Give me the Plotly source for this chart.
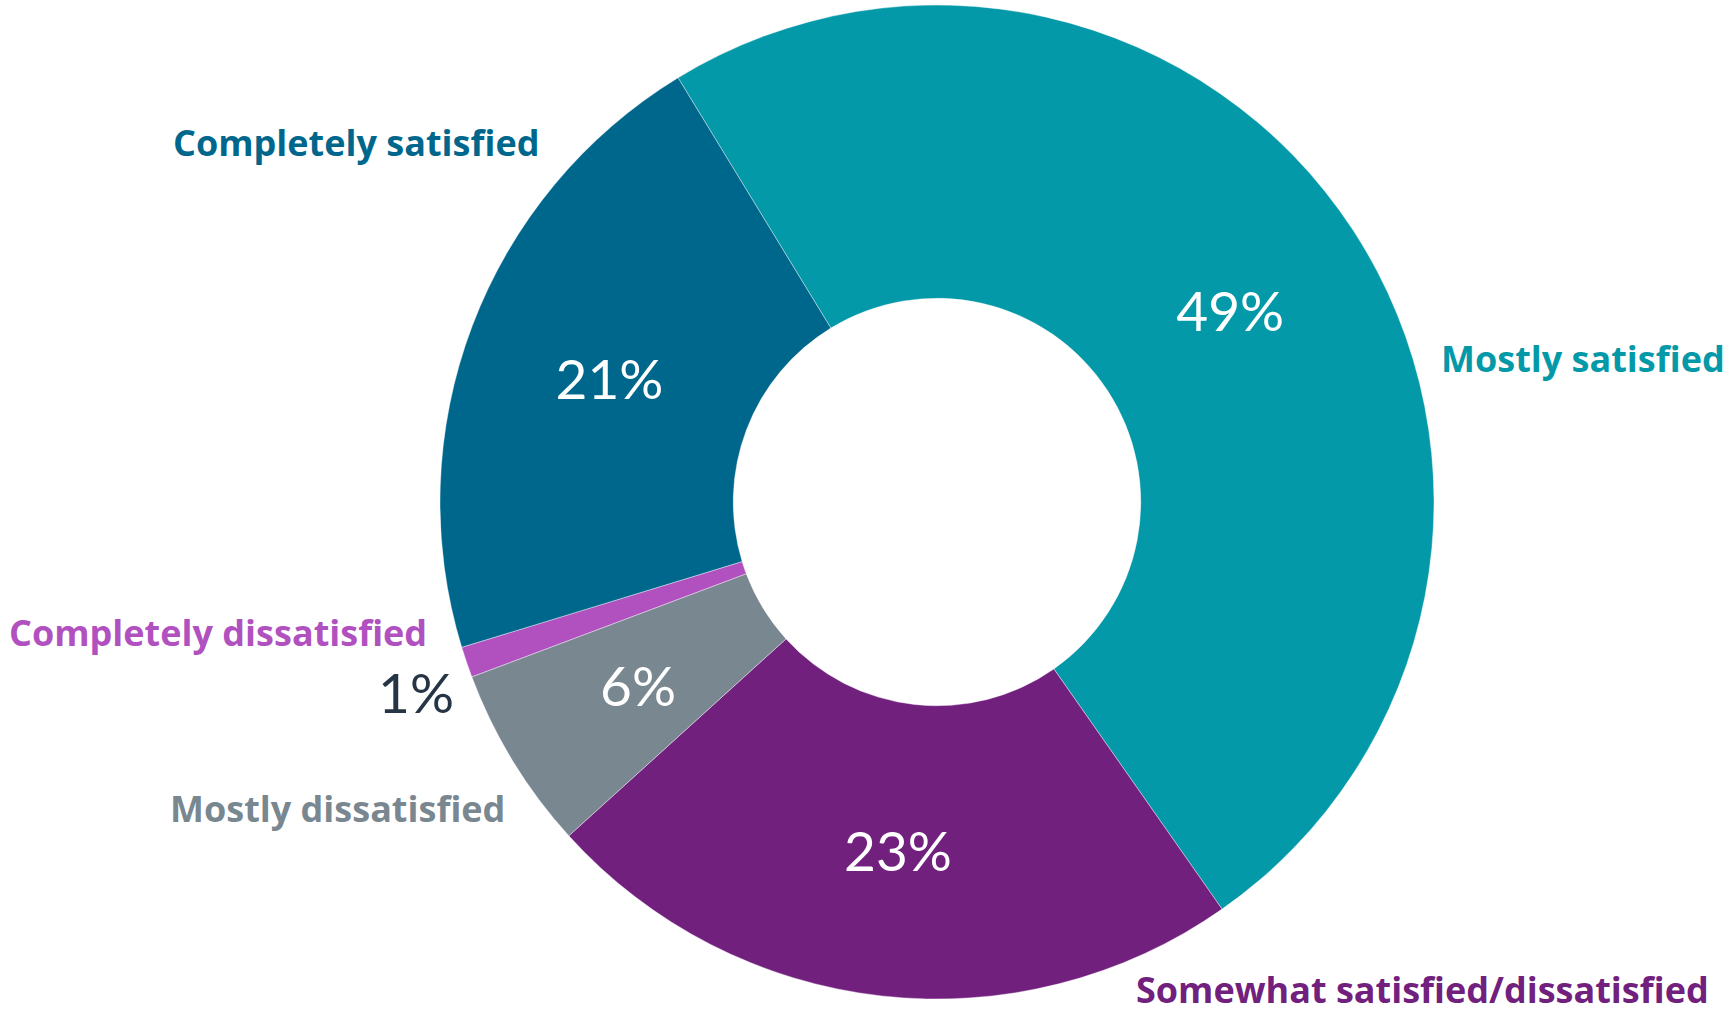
import math
import plotly.graph_objects as go

# Survey satisfaction shares (percent), in clockwise drawing order
categories = [
    "Mostly satisfied",
    "Somewhat satisfied/dissatisfied",
    "Mostly dissatisfied",
    "Completely dissatisfied",
    "Completely satisfied",
]
shares = [49, 23, 6, 1, 21]
colors = ["#0499A8", "#71207E", "#798790", "#B151C0", "#00678C"]

W, H = 1731, 1016
PCT_FONT = "Lato, Carlito, 'Open Sans', sans-serif"
LBL_FONT = "'Open Sans', 'Noto Sans', sans-serif"

# Pie geometry in pixels
cx, cy, R = 937, 502, 497
HOLE = 0.41
ROTATION = -31.4

# wide slices get plotly's own inside text; narrow ones are written by hand
text_pos = ["inside" if v >= 10 else "none" for v in shares]

fig = go.Figure(
    go.Pie(
        labels=categories,
        values=shares,
        sort=False,
        direction="clockwise",
        rotation=ROTATION,
        hole=HOLE,
        marker=dict(colors=colors, line=dict(color="white", width=0.4)),
        texttemplate="%{value}%",
        textposition=text_pos,
        insidetextorientation="horizontal",
        textfont=dict(family=PCT_FONT, size=55, color="white"),
        showlegend=False,
        hoverinfo="label+percent",
        domain=dict(
            x=[(cx - R) / W, (cx + R) / W],
            y=[1 - (cy + R) / H, 1 - (cy - R) / H],
        ),
    )
)

annotations = []

# Category labels beside the ring, each in its slice colour
# (x centre, y centre in pixels from the top; None = sit on the bottom edge)
label_pos = {
    "Completely satisfied": (356, 143),
    "Mostly satisfied": (1583, 358),
    "Completely dissatisfied": (218, 632),
    "Mostly dissatisfied": (337, 808),
    "Somewhat satisfied/dissatisfied": (1422, None),
}
for name, col in zip(categories, colors):
    px, py = label_pos[name]
    if py is None:
        ypos, yanch = 0.0, "bottom"
    else:
        ypos, yanch = 1 - py / H, "middle"
    annotations.append(
        dict(
            x=px / W, y=ypos, xref="paper", yref="paper",
            text=f"<b>{name}</b>", showarrow=False,
            xanchor="center", yanchor=yanch,
            font=dict(family=LBL_FONT, size=36, color=col),
        )
    )

# "Mostly dissatisfied" value, centred in the middle of its ring segment
total = sum(shares)
idx = categories.index("Mostly dissatisfied")
start = sum(shares[:idx]) / total * 360
mid = math.radians(ROTATION + start + shares[idx] / total * 180)
r_mid = R * (1 + HOLE) / 2
annotations.append(
    dict(
        x=(cx + r_mid * math.sin(mid)) / W,
        y=1 - (cy - r_mid * math.cos(mid)) / H,
        xref="paper", yref="paper",
        text=f"{shares[idx]}%", showarrow=False,
        xanchor="center", yanchor="middle",
        font=dict(family=PCT_FONT, size=55, color="white"),
    )
)

# Outside value label for the smallest slice
small = shares[categories.index("Completely dissatisfied")]
annotations.append(
    dict(
        x=416 / W, y=1 - 692 / H, xref="paper", yref="paper",
        text=f"{small}%", showarrow=False,
        xanchor="center", yanchor="middle",
        font=dict(family=PCT_FONT, size=55, color="#263545"),
    )
)

fig.update_layout(
    width=W, height=H,
    margin=dict(l=0, r=0, t=0, b=0),
    paper_bgcolor="white",
    plot_bgcolor="white",
    annotations=annotations,
)

fig.write_html("out.html")
